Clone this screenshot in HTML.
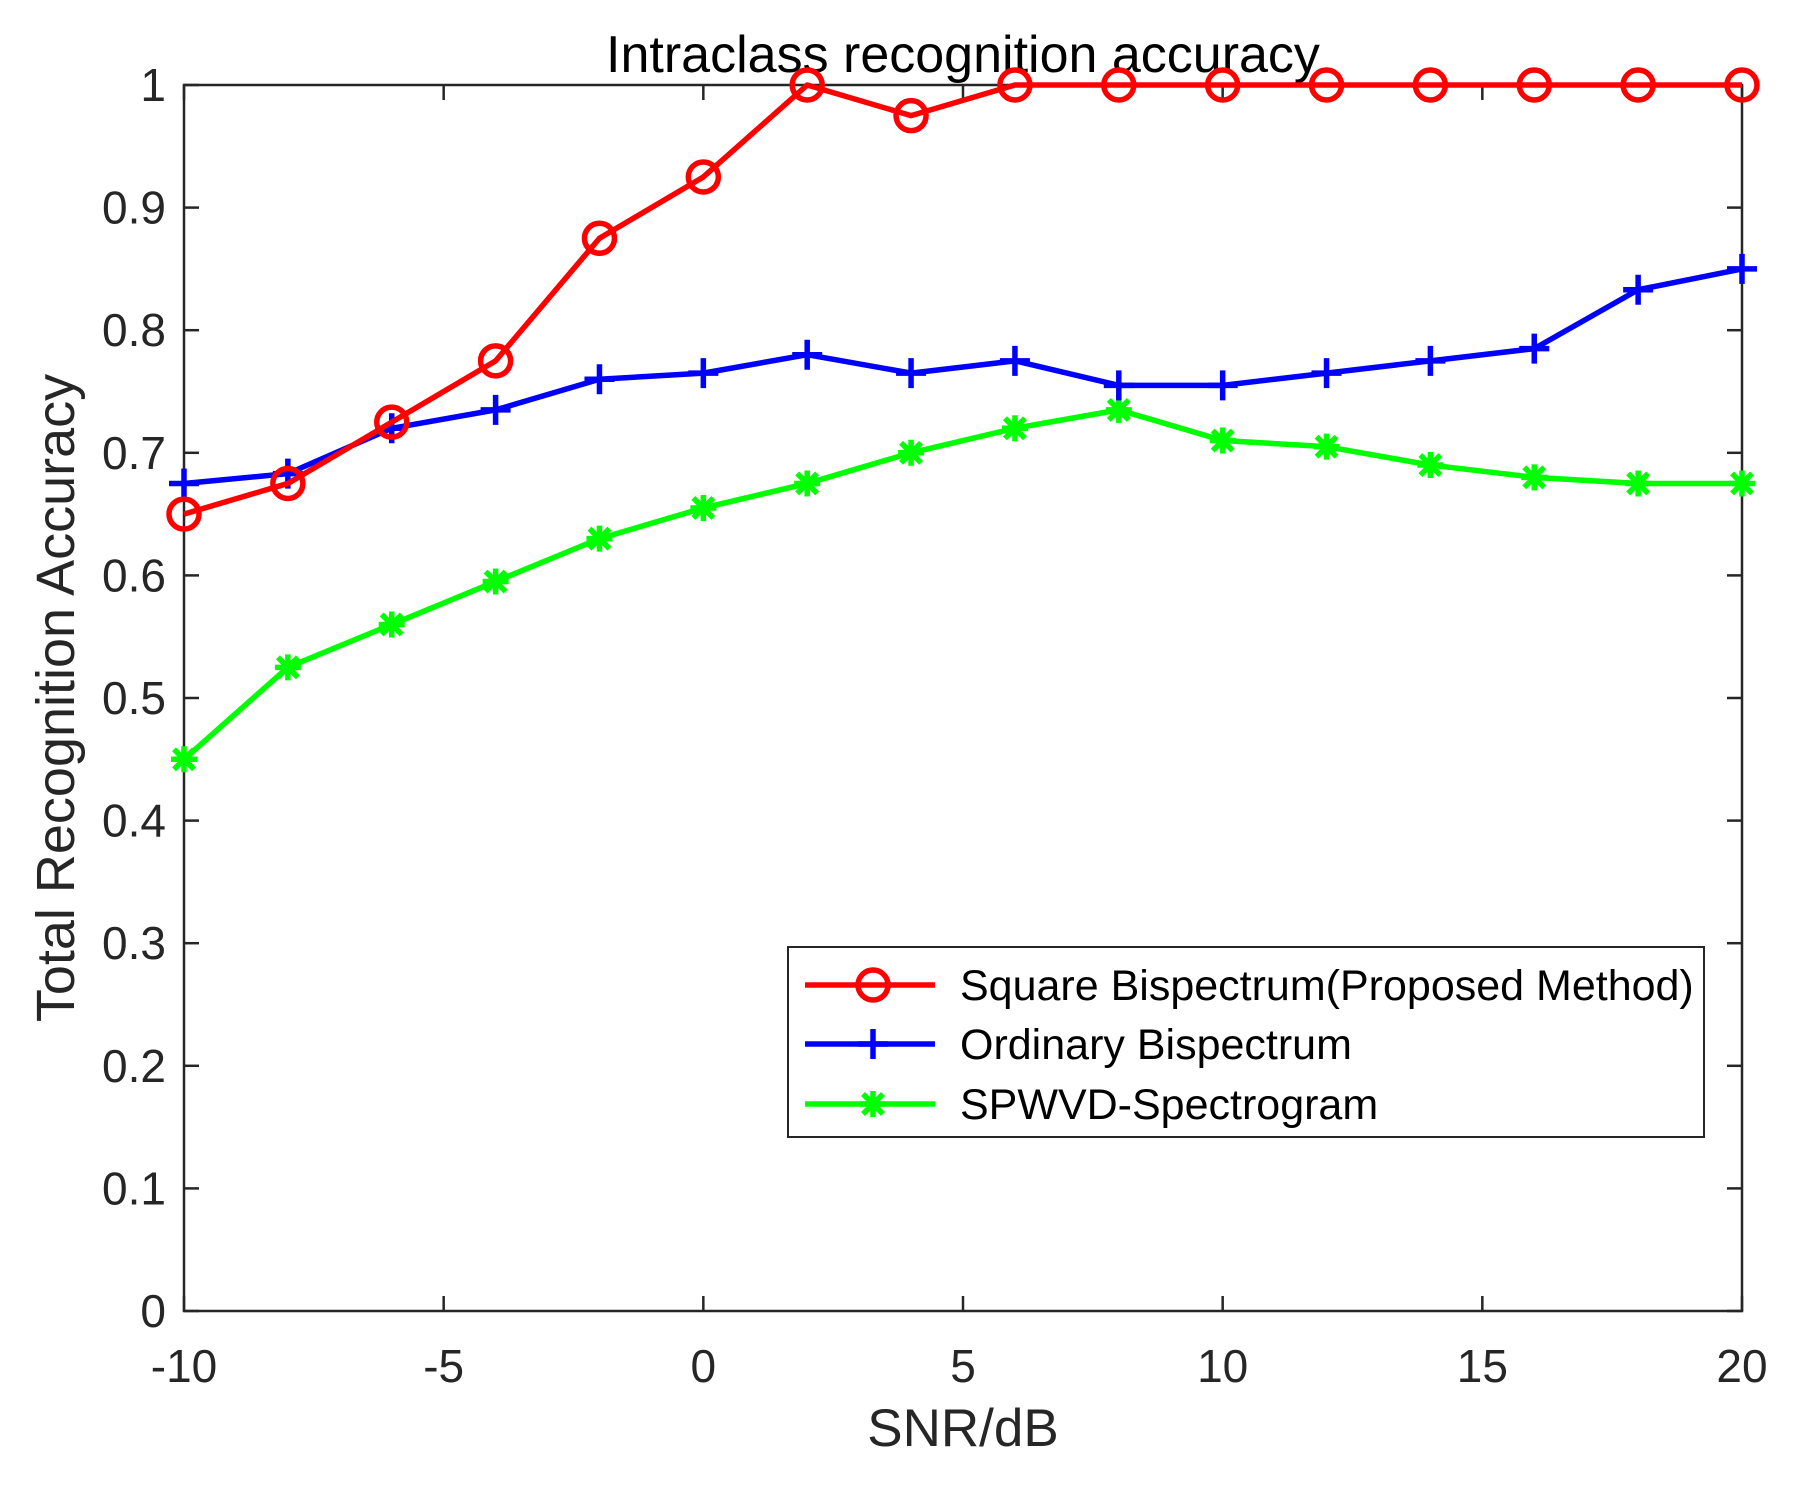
<!DOCTYPE html>
<html><head><meta charset="utf-8"><style>
html,body{margin:0;padding:0;background:#fff;}
svg{display:block;font-family:"Liberation Sans",Arial,sans-serif;}
</style></head><body>
<svg id="chart" width="1801" height="1485" viewBox="0 0 1801 1485" xmlns="http://www.w3.org/2000/svg">
<rect width="1801" height="1485" fill="#fff"/>
<g id="plot"></g>
</svg>
<script>
const snr = [-10,-8,-6,-4,-2,0,2,4,6,8,10,12,14,16,18,20];
const squareBispectrum = [0.65,0.675,0.725,0.775,0.875,0.925,1,0.975,1,1,1,1,1,1,1,1];
const ordinaryBispectrum = [0.675,0.683,0.72,0.735,0.76,0.765,0.78,0.765,0.775,0.755,0.755,0.765,0.775,0.785,0.833,0.85];
const spwvd = [0.45,0.525,0.56,0.595,0.63,0.655,0.675,0.70,0.72,0.735,0.71,0.705,0.69,0.68,0.675,0.675];
const xTicks = [-10,-5,0,5,10,15,20];
const yTicks = [0,0.1,0.2,0.3,0.4,0.5,0.6,0.7,0.8,0.9,1];
const seriesNames = ["Square Bispectrum(Proposed Method)","Ordinary Bispectrum","SPWVD-Spectrogram"];

const L=184,R=1742,T=85,B=1311;
const xs=v=>L+(v+10)/30*(R-L);
const ys=v=>B-v*(B-T);
const NS="http://www.w3.org/2000/svg";
const g=document.getElementById('plot');
function mk(tag,attrs,parent){const e=document.createElementNS(NS,tag);for(const k in attrs)e.setAttribute(k,attrs[k]);(parent||g).appendChild(e);return e;}

const box=mk('rect',{x:L,y:T,width:R-L,height:B-T,fill:'none',stroke:'#262626','stroke-width':2.5});



xTicks.forEach(v=>{
  const x=xs(v);
  mk('line',{x1:x,y1:B,x2:x,y2:B-15,stroke:'#262626','stroke-width':2.5});
  mk('line',{x1:x,y1:T,x2:x,y2:T+15,stroke:'#262626','stroke-width':2.5});
  const t=mk('text',{x:x,y:1382,'text-anchor':'middle','font-size':46,fill:'#262626'});
  t.textContent=v;
  
  
});
yTicks.forEach(v=>{
  const y=ys(v);
  mk('line',{x1:L,y1:y,x2:L+15,y2:y,stroke:'#262626','stroke-width':2.5});
  mk('line',{x1:R,y1:y,x2:R-15,y2:y,stroke:'#262626','stroke-width':2.5});
  const t=mk('text',{x:166,y:y+16,'text-anchor':'end','font-size':46,fill:'#262626'});
  t.textContent=v;
  
  
});

const title=mk('text',{x:963,y:72,'text-anchor':'middle','font-size':52,fill:'#000'});
title.textContent='Intraclass recognition accuracy';


const xl=mk('text',{x:963,y:1446,'text-anchor':'middle','font-size':53,fill:'#262626'});
xl.textContent='SNR/dB';


const yl=mk('text',{x:0,y:0,'text-anchor':'middle','font-size':54,fill:'#262626',transform:'translate(74,698) rotate(-90)'});
yl.textContent='Total Recognition Accuracy';



function marker(type,x,y,color,parent){
  if(type==='o') return mk('circle',{cx:x,cy:y,r:15,fill:'none',stroke:color,'stroke-width':5.5},parent);
  if(type==='+'){return mk('path',{d:`M${x-15} ${y}H${x+15}M${x} ${y-15}V${y+15}`,stroke:color,'stroke-width':5.5,fill:'none'},parent);}
  return mk('path',{d:`M${x-13} ${y}H${x+13}M${x} ${y-13}V${y+13}M${x-10} ${y-10}L${x+10} ${y+10}M${x-10} ${y+10}L${x+10} ${y-10}`,stroke:color,'stroke-width':5.5,fill:'none'},parent);
}
const series=[[squareBispectrum,'#ff0000','o','red'],[ordinaryBispectrum,'#0000ff','+','blue'],[spwvd,'#00ff00','*','green']];
series.slice().reverse().forEach(([data,color,m,n])=>{
  const sg=mk('g',{});
  
  
  mk('polyline',{points:data.map((v,i)=>xs(snr[i])+','+ys(v)).join(' '),fill:'none',stroke:color,'stroke-width':5.5,'stroke-linejoin':'round'},sg);
  data.forEach((v,i)=>{
    const mm=marker(m,xs(snr[i]),ys(v),color,sg);
    
    
  });
});

const lg=mk('g',{});


mk('rect',{x:788,y:947,width:916,height:190,fill:'#fff',stroke:'#262626','stroke-width':2},lg);
const rowsY=[985,1044,1104];
series.forEach(([d,color,m,n],i)=>{
  const eg=mk('g',{},lg);
  
  
  mk('line',{x1:805,y1:rowsY[i],x2:935,y2:rowsY[i],stroke:color,'stroke-width':5.5},eg);
  marker(m,873,rowsY[i],color,eg);
  const t=mk('text',{x:960,y:rowsY[i]+15,'font-size':43,fill:'#000'},eg);
  t.textContent=seriesNames[i];
});
</script>
</body></html>
